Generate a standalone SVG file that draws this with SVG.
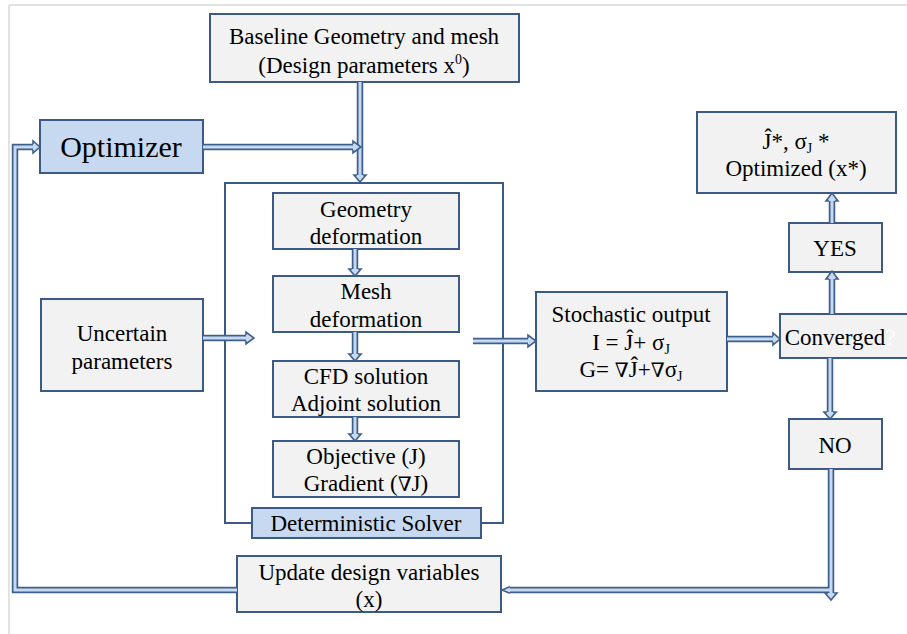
<svg xmlns="http://www.w3.org/2000/svg" width="907" height="634" viewBox="0 0 907 634">
<style>
.box{fill:#f2f2f2;stroke:#3b5a86;stroke-width:2}
.hl{fill:#c6d9f1;stroke:#3b5a86;stroke-width:2}
.frame{fill:none;stroke:#3b5a86;stroke-width:2}
.t{font-family:"Liberation Serif","Times New Roman",serif;font-size:23px;fill:#000;text-anchor:middle}
.big{font-size:30px}
.sub{font-size:14px}
.sd{fill:none;stroke:#3e5f8c;stroke-width:6.5}
.sl{fill:none;stroke:#c6d9f1;stroke-width:3}
.hd{fill:#c6d9f1;stroke:#3e5f8c;stroke-width:1.6;stroke-linejoin:miter}
</style>
<rect x="0" y="0" width="907" height="634" fill="#ffffff"/>
<path d="M9,5 H907 M9,5 V634" fill="none" stroke="#d9d9d9" stroke-width="1.5"/>

<g id="baseline">
<rect class="box" x="210" y="14" width="309" height="68"/>
<text class="t" x="364" y="44">Baseline Geometry and mesh</text>
<text class="t" x="364" y="73">(Design parameters x<tspan class="sub" dy="-9">0</tspan><tspan dy="9">)</tspan></text>
</g>
<g id="optimizer">
<rect class="hl" x="40" y="120" width="163" height="53"/>
<text class="t big" x="121" y="157">Optimizer</text>
</g>
<g id="solver">
<rect class="frame" x="225" y="183" width="278" height="340"/>
</g>
<g id="geometry">
<rect class="box" x="273" y="193" width="186" height="56"/>
<text class="t" x="366" y="217">Geometry</text>
<text class="t" x="366" y="244">deformation</text>
</g>
<g id="mesh">
<rect class="box" x="273" y="276" width="186" height="56"/>
<text class="t" x="366" y="299">Mesh</text>
<text class="t" x="366" y="327">deformation</text>
</g>
<g id="cfd">
<rect class="box" x="273" y="361" width="186" height="56"/>
<text class="t" x="366" y="384">CFD solution</text>
<text class="t" x="366" y="411">Adjoint solution</text>
</g>
<g id="objective">
<rect class="box" x="273" y="441" width="186" height="56"/>
<text class="t" x="366" y="464">Objective (J)</text>
<text class="t" x="366" y="491">Gradient (<tspan font-family="DejaVu Serif" font-weight="normal" style="font-size:20px">∇</tspan>J)</text>
</g>
<g id="detsolver">
<rect class="hl" x="252" y="508" width="229" height="30"/>
<text class="t" x="366" y="531">Deterministic Solver</text>
</g>
<g id="uncertain">
<rect class="box" x="41" y="299" width="162" height="92"/>
<text class="t" x="122" y="341">Uncertain</text>
<text class="t" x="122" y="369">parameters</text>
</g>
<g id="stochastic">
<rect class="box" x="536" y="292" width="191" height="99"/>
<text class="t" x="631" y="322">Stochastic output</text>
<text class="t" x="631" y="350">I = Ĵ+ σ<tspan class="sub" dy="4">J</tspan></text>
<text class="t" x="631" y="377">G= <tspan font-family="DejaVu Serif" style="font-size:20px">∇</tspan>Ĵ+<tspan font-family="DejaVu Serif" style="font-size:20px">∇</tspan>σ<tspan class="sub" dy="4">J</tspan></text>
</g>
<g id="converged">
<rect class="box" x="780" y="314" width="130" height="44"/>
<text class="t" x="840" y="345">Converged<tspan fill="#ffffff">?</tspan></text>
</g>
<g id="yes">
<rect class="box" x="789" y="223" width="93" height="49"/>
<text class="t" x="835" y="256">YES</text>
</g>
<g id="no">
<rect class="box" x="789" y="419" width="93" height="50"/>
<text class="t" x="835" y="453">NO</text>
</g>
<g id="result">
<rect class="box" x="697" y="112" width="199" height="81"/>
<text class="t" x="796" y="149">Ĵ*, σ<tspan class="sub" dy="4">J</tspan><tspan dy="-4"> *</tspan></text>
<text class="t" x="796" y="176">Optimized (x*)</text>
</g>
<g id="update">
<rect class="box" x="237" y="556" width="264" height="56"/>
<text class="t" x="369" y="580">Update design variables</text>
<text class="t" x="369" y="607">(x)</text>
</g>

<g id="connectors">
<g class="sd">
<path d="M360,82 V175"/>
<path d="M203,147 H353"/>
<path d="M237,590 H15 V147 H33"/>
<path d="M203,338 H246"/>
<path d="M473,341 H528"/>
<path d="M727,339 H773"/>
<path d="M832,314 V279"/>
<path d="M832,223 V201"/>
<path d="M830,358 V412"/>
<path d="M831,469 V593"/>
<path d="M831,590 H510"/>
<path d="M355,249 V269"/>
<path d="M355,332 V354"/>
<path d="M355,417 V434"/>
</g>
<g class="sl">
<path d="M360,82 V175"/>
<path d="M203,147 H353"/>
<path d="M237,590 H15 V147 H33"/>
<path d="M203,338 H246"/>
<path d="M473,341 H528"/>
<path d="M727,339 H773"/>
<path d="M832,314 V279"/>
<path d="M832,223 V201"/>
<path d="M830,358 V412"/>
<path d="M831,469 V593"/>
<path d="M831,590 H510"/>
<path d="M355,249 V269"/>
<path d="M355,332 V354"/>
<path d="M355,417 V434"/>
</g>
<g class="hd">
<path d="M357,175 H354 L360,182 L366,175 H363"/>
<path d="M353,144 V141 L361,147 L353,153 V150"/>
<path d="M33,144 V141 L40,147 L33,153 V150"/>
<path d="M246,335 V332 L254,338 L246,344 V341"/>
<path d="M528,338 V335 L536,341 L528,347 V344"/>
<path d="M773,336 V333 L780,339 L773,345 V342"/>
<path d="M829,279 H826 L832,271 L838,279 H835"/>
<path d="M829,201 H826 L832,193 L838,201 H835"/>
<path d="M827,412 H824 L830,419 L836,412 H833"/>
<path d="M828,593 H825 L831,600 L837,593 H834"/>
<path d="M510,587 H509 L502,590 L509,593 H510"/>
<path d="M352,269 H349 L355,276 L361,269 H358"/>
<path d="M352,354 H349 L355,361 L361,354 H358"/>
<path d="M352,434 H349 L355,441 L361,434 H358"/>
</g>
</g>
</svg>
